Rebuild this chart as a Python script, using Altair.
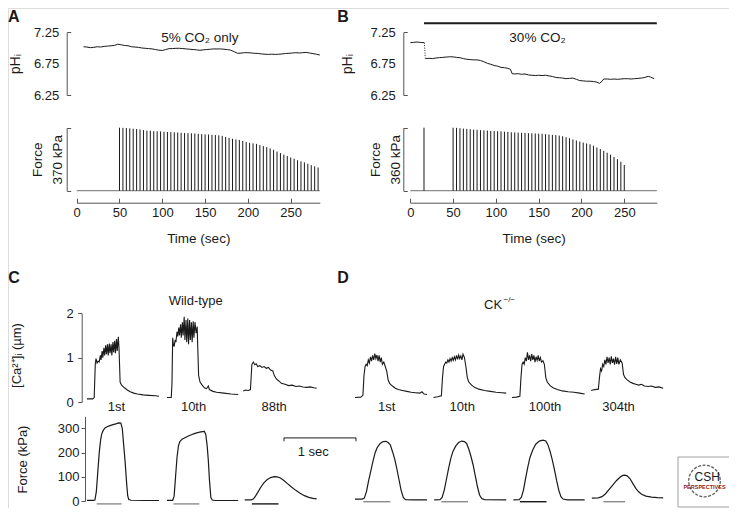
import altair as alt
import pandas as pd

# ======================= DATA =======================
# Panel A : pHi trace (5% CO2 only), time in sec
A_PH_T = [8, 12, 16, 20, 24, 28, 32, 36, 40, 44, 48, 52, 56, 60, 64, 68, 72, 76, 80, 84,
          88, 92, 96, 100, 104, 108, 112, 116, 120, 124, 128, 132, 136, 140, 144, 148, 152, 156, 160, 164,
          168, 172, 176, 180, 184, 188, 192, 196, 200, 204, 208, 212, 216, 220, 224, 228, 232, 236, 240, 244,
          248, 252, 256, 260, 264, 268, 272, 276, 280, 284]
A_PH_V = [7.02, 7.015, 7.005, 7.01, 7.02, 7.015, 7.025, 7.03, 7.035, 7.04, 7.06, 7.05, 7.04, 7.035, 7.02, 7.015, 7.01, 7.0, 6.995, 6.99,
          6.985, 6.975, 6.965, 6.96, 6.975, 6.99, 6.99, 6.995, 6.995, 6.99, 6.985, 6.98, 6.975, 6.97, 6.963, 6.97, 6.975, 6.98, 6.985, 6.984,
          6.985, 6.98, 6.975, 6.965, 6.94, 6.915, 6.918, 6.925, 6.925, 6.92, 6.915, 6.912, 6.905, 6.9, 6.898, 6.9, 6.898, 6.9, 6.905, 6.912,
          6.915, 6.92, 6.925, 6.92, 6.925, 6.93, 6.92, 6.91, 6.9, 6.888]
# Panel A : tetanic force peaks (kPa)
A_BAR_T = [50, 54, 58, 62, 66, 70, 74, 78, 82, 86, 90, 94, 98, 102, 106, 110, 114, 118, 122, 126,
           130, 134, 138, 142, 146, 150, 154, 158, 162, 166, 170, 174, 178, 182, 186, 190, 194, 198, 202, 206,
           210, 214, 218, 222, 226, 230, 234, 238, 242, 246, 250, 254, 258, 262, 266, 270, 274, 278, 282]
A_BAR_F = [370, 369, 368, 366, 364, 362, 360, 356, 353, 352, 350, 349, 348, 346, 345, 344, 343, 342, 340, 339,
           338, 337, 336, 334, 332, 331, 330, 328, 327, 325, 322, 316, 310, 305, 301, 298, 292, 286, 281, 278,
           275, 268, 262, 256, 248, 240, 230, 221, 212, 204, 195, 188, 179, 172, 166, 158, 150, 143, 136]

# Panel B : pHi trace (30% CO2)
B_PH1_T = [0, 4, 8, 12, 16]
B_PH1_V = [7.085, 7.09, 7.095, 7.088, 7.085]
B_DOT_T = [16.5, 17.5]
B_DOT_V = [7.085, 6.83]
B_PH2_T = [18, 22, 26, 30, 34, 38, 42, 46, 50, 54, 58, 62, 66, 70, 74, 78, 82, 86, 90, 94,
           98, 102, 106, 110, 114, 117, 119, 122, 126, 130, 134, 138, 142, 146, 150, 154, 158, 162, 166, 170,
           174, 178, 182, 186, 190, 194, 198, 202, 206, 210, 214, 218, 221, 224, 226, 230, 234, 238, 242, 246,
           250, 254, 258, 262, 266, 270, 274, 278, 281, 285]
B_PH2_V = [6.83, 6.835, 6.83, 6.84, 6.846, 6.85, 6.855, 6.86, 6.858, 6.85, 6.845, 6.83, 6.82, 6.815, 6.81, 6.81, 6.80, 6.78, 6.755, 6.74,
           6.72, 6.71, 6.69, 6.685, 6.675, 6.66, 6.59, 6.585, 6.59, 6.58, 6.585, 6.57, 6.565, 6.56, 6.565, 6.56, 6.565, 6.555, 6.545, 6.53,
           6.525, 6.52, 6.51, 6.515, 6.52, 6.5, 6.48, 6.475, 6.47, 6.47, 6.465, 6.455, 6.436, 6.47, 6.505, 6.505, 6.5, 6.505, 6.5, 6.505,
           6.51, 6.51, 6.505, 6.51, 6.515, 6.52, 6.53, 6.548, 6.535, 6.51]
B_CO2_BAR = [16, 288, 7.394]
B_BAR_T = [16, 50, 54, 58, 62, 66, 70, 74, 78, 82, 86, 90, 94, 98, 102, 106, 110, 114, 118, 122, 126,
           130, 134, 138, 142, 146, 150, 154, 158, 162, 166, 170, 174, 178, 182, 186, 190, 194, 198, 202, 206,
           210, 214, 218, 222, 226, 230, 234, 238, 242, 246, 250]
B_BAR_F = [360, 360, 359, 357, 355, 353, 351, 349, 348, 346, 345, 344, 342, 341, 340, 339, 337, 336, 334, 333, 332,
           331, 330, 329, 328, 327, 326, 325, 323, 321, 319, 318, 315, 311, 306, 300, 293, 287, 281, 275, 270,
           265, 257, 247, 238, 228, 217, 206, 193, 180, 165, 147]

# Panel C : wild-type [Ca2+]i sweeps (t sec, uM)
C_CA = [
    [(0.00, 0.07), (0.08, 0.07), (0.10, 0.10), (0.115, 0.85), (0.125, 0.98), (0.14, 0.88), (0.155, 0.92), (0.17, 0.90),
     (0.185, 1.05), (0.195, 0.95), (0.21, 1.15), (0.22, 1.00), (0.235, 1.22), (0.245, 1.05), (0.26, 1.28), (0.27, 1.08),
     (0.285, 1.30), (0.295, 1.05), (0.31, 1.32), (0.32, 1.10), (0.335, 1.30), (0.345, 1.05), (0.36, 1.35), (0.37, 1.12),
     (0.385, 1.38), (0.395, 1.10), (0.41, 1.42), (0.42, 1.15), (0.435, 1.47), (0.445, 1.20), (0.46, 0.45), (0.48, 0.38),
     (0.52, 0.32), (0.56, 0.27), (0.60, 0.23), (0.65, 0.20), (0.70, 0.18), (0.78, 0.16), (0.86, 0.15), (0.95, 0.14), (1.0, 0.13)],
    [(1.11, 0.10), (1.17, 0.10), (1.18, 0.40), (1.19, 1.45), (1.20, 1.30), (1.21, 1.25), (1.225, 1.40), (1.235, 1.35),
     (1.25, 1.58), (1.26, 1.48), (1.275, 1.68), (1.285, 1.50), (1.30, 1.75), (1.31, 1.45), (1.325, 1.80), (1.335, 1.50),
     (1.35, 1.92), (1.36, 1.40), (1.375, 1.85), (1.385, 1.35), (1.40, 1.88), (1.41, 1.30), (1.425, 1.85), (1.435, 1.40),
     (1.45, 1.80), (1.46, 1.35), (1.475, 1.82), (1.485, 1.45), (1.50, 1.80), (1.515, 1.55), (1.53, 1.70), (1.55, 0.60),
     (1.57, 0.45), (1.60, 0.38), (1.63, 0.32), (1.66, 0.30), (1.685, 0.36), (1.70, 0.28), (1.75, 0.24), (1.80, 0.22),
     (1.90, 0.20), (2.00, 0.18), (2.10, 0.17)],
    [(2.17, 0.25), (2.20, 0.27), (2.24, 0.26), (2.27, 0.28), (2.29, 0.85), (2.31, 0.90), (2.33, 0.84), (2.35, 0.86),
     (2.37, 0.80), (2.40, 0.82), (2.43, 0.78), (2.46, 0.80), (2.49, 0.76), (2.52, 0.78), (2.55, 0.72), (2.58, 0.70),
     (2.60, 0.60), (2.63, 0.52), (2.66, 0.48), (2.70, 0.42), (2.75, 0.40), (2.80, 0.37), (2.85, 0.38), (2.90, 0.35),
     (2.95, 0.36), (3.00, 0.34), (3.05, 0.33), (3.10, 0.34), (3.15, 0.32), (3.19, 0.31)],
]
C_F = [
    [(0.00, 3), (0.09, 3), (0.11, 4), (0.13, 40), (0.15, 120), (0.17, 200), (0.19, 255), (0.205, 278), (0.225, 292),
     (0.25, 302), (0.30, 310), (0.35, 315), (0.40, 319), (0.44, 323), (0.47, 322), (0.49, 300), (0.51, 230), (0.53, 160),
     (0.55, 75), (0.565, 22), (0.58, 6), (0.61, 3), (0.80, 2), (1.00, 2)],
    [(1.11, 3), (1.19, 3), (1.21, 20), (1.23, 100), (1.25, 180), (1.27, 228), (1.29, 246), (1.32, 256), (1.36, 262),
     (1.40, 268), (1.45, 274), (1.50, 280), (1.55, 284), (1.60, 287), (1.63, 288), (1.65, 275), (1.67, 225), (1.685, 168),
     (1.70, 90), (1.72, 14), (1.74, 4), (1.78, 2), (1.90, 2), (2.10, 2)],
    [(2.19, 5), (2.28, 5), (2.31, 8), (2.34, 20), (2.38, 40), (2.42, 60), (2.46, 76), (2.50, 88), (2.55, 97), (2.60, 101),
     (2.64, 100), (2.68, 96), (2.73, 86), (2.78, 73), (2.84, 58), (2.90, 44), (2.96, 32), (3.02, 22), (3.08, 15),
     (3.14, 11), (3.19, 9)],
]
C_STIM = [(0.135, 0.48, "#8c8c8c"), (1.20, 1.56, "#8c8c8c"), (2.29, 2.66, "#1a1a1a")]
C_LABELS = [(0.41, "1st"), (1.48, "10th"), (2.60, "88th")]
SCALE_BAR = [2.736, 3.736, 261, 247]   # t0, t1, bar level, tick end (kPa)

# Panel D : CK-/- sweeps
D_CA = [
    [(0.00, 0.10), (0.08, 0.11), (0.11, 0.15), (0.125, 0.60), (0.14, 0.80), (0.155, 0.85), (0.17, 0.82), (0.185, 0.95),
     (0.20, 0.88), (0.215, 1.02), (0.23, 0.92), (0.245, 1.05), (0.26, 0.95), (0.275, 1.09), (0.29, 0.98), (0.305, 1.06),
     (0.32, 0.92), (0.335, 1.05), (0.35, 0.90), (0.365, 1.00), (0.38, 0.85), (0.40, 0.90), (0.42, 0.80), (0.44, 0.70),
     (0.46, 0.50), (0.48, 0.42), (0.52, 0.36), (0.56, 0.31), (0.60, 0.28), (0.66, 0.26), (0.72, 0.24), (0.78, 0.22),
     (0.84, 0.21), (0.90, 0.20), (0.93, 0.23), (0.96, 0.18), (1.00, 0.17)],
    [(1.09, 0.10), (1.15, 0.12), (1.20, 0.14), (1.215, 0.55), (1.23, 0.80), (1.245, 0.85), (1.26, 0.90), (1.275, 0.88),
     (1.29, 0.95), (1.305, 0.90), (1.32, 0.98), (1.335, 0.92), (1.35, 1.00), (1.365, 0.94), (1.38, 1.02), (1.395, 0.95),
     (1.41, 1.05), (1.425, 0.96), (1.44, 1.06), (1.455, 0.98), (1.47, 1.04), (1.485, 0.95), (1.50, 1.08), (1.52, 1.00),
     (1.54, 0.80), (1.56, 0.55), (1.58, 0.45), (1.62, 0.38), (1.66, 0.33), (1.72, 0.29), (1.80, 0.26), (1.88, 0.24),
     (1.96, 0.22), (2.04, 0.21), (2.10, 0.20)],
    [(2.18, 0.10), (2.24, 0.11), (2.29, 0.13), (2.305, 0.55), (2.32, 0.85), (2.335, 0.90), (2.35, 0.85), (2.365, 1.00),
     (2.38, 0.92), (2.395, 1.12), (2.41, 0.95), (2.425, 1.05), (2.44, 0.92), (2.455, 1.08), (2.47, 0.95), (2.485, 1.05),
     (2.50, 0.90), (2.515, 1.02), (2.53, 0.94), (2.545, 1.05), (2.56, 0.92), (2.575, 1.00), (2.59, 0.90), (2.61, 0.93),
     (2.63, 0.85), (2.65, 0.55), (2.67, 0.45), (2.71, 0.37), (2.75, 0.32), (2.81, 0.28), (2.88, 0.25), (2.96, 0.23),
     (3.04, 0.22), (3.12, 0.20), (3.19, 0.18)],
    [(3.28, 0.26), (3.33, 0.28), (3.38, 0.29), (3.395, 0.55), (3.41, 0.75), (3.425, 0.70), (3.44, 0.85), (3.455, 0.80),
     (3.47, 0.95), (3.485, 0.85), (3.50, 1.02), (3.515, 0.88), (3.53, 1.00), (3.545, 0.85), (3.56, 1.03), (3.575, 0.88),
     (3.59, 0.98), (3.605, 0.84), (3.62, 1.02), (3.635, 0.86), (3.65, 1.00), (3.665, 0.85), (3.685, 0.95), (3.71, 0.88),
     (3.73, 0.62), (3.75, 0.55), (3.78, 0.50), (3.82, 0.45), (3.86, 0.42), (3.90, 0.40), (3.94, 0.38), (3.98, 0.40),
     (4.02, 0.36), (4.07, 0.35), (4.12, 0.36), (4.17, 0.33), (4.22, 0.34), (4.28, 0.31)],
]
D_F = [
    [(0.00, 8), (0.10, 8), (0.13, 12), (0.16, 40), (0.19, 85), (0.22, 125), (0.25, 165), (0.28, 200), (0.31, 222),
     (0.35, 238), (0.39, 246), (0.43, 247), (0.46, 242), (0.49, 232), (0.52, 205), (0.55, 175), (0.58, 135), (0.61, 90),
     (0.64, 45), (0.67, 15), (0.70, 6), (0.80, 5), (1.00, 5)],
    [(1.10, 5), (1.18, 6), (1.21, 15), (1.24, 45), (1.27, 90), (1.30, 135), (1.33, 175), (1.36, 205), (1.40, 228),
     (1.44, 242), (1.48, 248), (1.52, 246), (1.55, 238), (1.58, 215), (1.61, 185), (1.64, 150), (1.67, 105), (1.70, 60),
     (1.73, 25), (1.76, 10), (1.80, 6), (2.10, 5)],
    [(2.20, 5), (2.28, 6), (2.31, 15), (2.34, 45), (2.37, 95), (2.40, 140), (2.43, 180), (2.47, 212), (2.51, 235),
     (2.56, 248), (2.61, 252), (2.65, 248), (2.68, 232), (2.71, 205), (2.74, 170), (2.77, 130), (2.80, 85), (2.83, 45),
     (2.86, 18), (2.89, 8), (2.95, 5), (3.19, 5)],
    [(3.29, 12), (3.38, 13), (3.43, 18), (3.48, 30), (3.53, 48), (3.58, 66), (3.63, 84), (3.68, 98), (3.72, 106),
     (3.75, 107), (3.78, 104), (3.82, 92), (3.86, 72), (3.90, 52), (3.94, 38), (3.98, 28), (4.04, 20), (4.12, 16),
     (4.20, 14), (4.28, 13)],
]
D_STIM = [(0.115, 0.49, "#8c8c8c"), (1.20, 1.57, "#8c8c8c"), (2.29, 2.66, "#1a1a1a"), (3.45, 3.75, "#8c8c8c")]
D_LABELS = [(0.44, "1st"), (1.49, "10th"), (2.64, "100th"), (3.66, "304th")]

PH_TICKS = [6.25, 6.75, 7.25]
TIME_TICKS = [0, 50, 100, 150, 200, 250]
CA_TICKS = [0.0, 1.0, 2.0]
F_TICKS = [0, 100, 200, 300]

assert len(A_PH_T) == len(A_PH_V) and len(A_BAR_T) == len(A_BAR_F)
assert len(B_PH2_T) == len(B_PH2_V) and len(B_BAR_T) == len(B_BAR_F)

# ======================= LAYOUT =======================
OFF = 8
W, H = 721, 500
INK = "#1a1a1a"
AX = "#555555"
GRAY = "#8c8c8c"
FONT = "Liberation Sans"


def S(domain, rng):
    return alt.Scale(domain=domain, range=[rng[0] - OFF, rng[1] - OFF], nice=False, zero=False)


A_T = S([0, 284], [76.7, 319.8])
B_T = S([0, 288], [410.3, 656.8])
PH = S([6.25, 7.25], [95.0, 32.3])
A_FS = S([0, 370], [190.7, 127.7])
B_FS = S([0, 360], [190.7, 127.7])
C_T = S([0, 3.2], [87.0, 317.4])
D_T = S([0, 4.3], [355.0, 664.6])
CA = S([0, 2], [402.0, 313.3])
FS = S([0, 350], [501.0, 416.4])
LX = S([0, 1], [678.0, 731.0])
LY = S([0, 1], [507.0, 457.0])


def X(f, sc, axis=None):
    return alt.X(f, type="quantitative", scale=sc, axis=axis)


def Y(f, sc, axis=None):
    return alt.Y(f, type="quantitative", scale=sc, axis=axis)


common = dict(grid=False, domainColor=AX, domainWidth=1, tickColor=AX, tickWidth=1,
              labelColor=INK, labelFont=FONT, titleColor=INK, titleFont=FONT,
              titleFontWeight="normal", labelOverlap=False, labelFlush=False)


def ph_axis(x_page, title_x_page):
    c = dict(common)
    c["tickColor"] = {"condition": {"test": "datum.value == 6.75", "value": "transparent"}, "value": AX}
    return alt.Axis(orient="right", offset=(x_page - OFF) - W, values=PH_TICKS, format=".2f",
                    tickSize=4, labelAlign="right", labelBaseline="middle", labelPadding=-12,
                    labelFontSize=13, title="pHᵢ", titleAngle=270, titleX=title_x_page - x_page,
                    titleY=(32.3 + 95.0) / 2 - OFF, titleAlign="center", titleBaseline="middle",
                    titleFontSize=14, **c)


def force_bracket(x_page, top, lines, title_x_page):
    return alt.Axis(orient="right", offset=(x_page - OFF) - W, values=[0, top], labels=False,
                    tickSize=4, title=lines, titleAngle=270, titleX=title_x_page - x_page,
                    titleY=(127.7 + 190.7) / 2 - OFF, titleAlign="center", titleBaseline="middle",
                    titleLineHeight=20, titleFontSize=13.5, **common)


def time_axis(x0, x1):
    return alt.Axis(orient="top", offset=-(202.7 - OFF), values=TIME_TICKS, tickSize=4.5,
                    labelBaseline="top", labelAlign="center", labelPadding=-8, labelAngle=0,
                    labelFontSize=13, title="Time (sec)", titleX=(x0 + x1) / 2 - OFF,
                    titleY=238 - 202.7, titleAlign="center", titleBaseline="middle",
                    titleFontSize=13.5, **common)


def left_axis(x_page, values, title, title_x_page, title_y_page, pad):
    return alt.Axis(orient="left", offset=-(x_page - OFF), values=values, format=".0f", tickSize=4,
                    labelPadding=pad, labelFontSize=13, labelAlign="right", labelBaseline="middle",
                    title=title, titleAngle=270, titleX=title_x_page - x_page, titleY=title_y_page - OFF,
                    titleAlign="center", titleBaseline="middle", titleFontSize=13, **common)


def text_layer(rows, xs, ys, size=13, weight="normal", align="center", color=INK):
    d = pd.DataFrame(rows, columns=["t", "v", "label"])
    return alt.Chart(d).mark_text(font=FONT, fontSize=size, fontWeight=weight, align=align,
                                  baseline="middle", color=color).encode(
        x=X("t", xs), y=Y("v", ys), text=alt.Text("label:N"))


def sweeps_df(sweeps):
    rows = []
    for i, pts in enumerate(sweeps):
        for t, v in pts:
            rows.append({"t": t, "v": v, "sweep": i})
    return pd.DataFrame(rows)


layers = []

# ---------------- Panel A ----------------
layers.append(alt.Chart(pd.DataFrame({"t": A_PH_T, "v": A_PH_V})).mark_line(color=INK, strokeWidth=1).encode(
    x=X("t", A_T), y=Y("v", PH, ph_axis(66.7, 16))))
layers.append(alt.Chart(pd.DataFrame({"t0": [0], "t1": [284], "f": [0]})).mark_rule(color=GRAY, strokeWidth=1.2).encode(
    x=X("t0", A_T, time_axis(76.7, 319.8)), x2="t1", y=Y("f", A_FS, force_bracket(66.7, 370, ["Force", "370 kPa"], 38))))
layers.append(alt.Chart(pd.DataFrame({"t": A_BAR_T, "f0": [0] * len(A_BAR_T), "f": A_BAR_F})).mark_rule(
    color=INK, strokeWidth=1).encode(x=X("t", A_T), y=Y("f0", A_FS), y2="f"))
layers.append(text_layer([(144, 7.154, "5% CO₂ only")], A_T, PH, size=13.5))
layers.append(text_layer([(-73.5, 7.50, "A")], A_T, PH, size=16, weight="bold"))

# ---------------- Panel B ----------------
b_ph = pd.DataFrame({"t": B_PH1_T + B_PH2_T, "v": B_PH1_V + B_PH2_V,
                     "seg": [0] * len(B_PH1_T) + [1] * len(B_PH2_T)})
layers.append(alt.Chart(b_ph).mark_line(color=INK, strokeWidth=1).encode(
    x=X("t", B_T), y=Y("v", PH, ph_axis(403.3, 347)), detail="seg:N"))
layers.append(alt.Chart(pd.DataFrame({"t": B_DOT_T, "v": B_DOT_V})).mark_line(
    color=INK, strokeWidth=1, strokeDash=[1, 1.5]).encode(x=X("t", B_T), y=Y("v", PH)))
layers.append(alt.Chart(pd.DataFrame({"t0": [B_CO2_BAR[0]], "t1": [B_CO2_BAR[1]], "v": [B_CO2_BAR[2]]})).mark_rule(
    color=INK, strokeWidth=2).encode(x=X("t0", B_T), x2="t1", y=Y("v", PH)))
layers.append(text_layer([(148.6, 7.16, "30% CO₂")], B_T, PH, size=13.5))
layers.append(alt.Chart(pd.DataFrame({"t0": [0], "t1": [288], "f": [0]})).mark_rule(color=GRAY, strokeWidth=1.2).encode(
    x=X("t0", B_T, time_axis(410.3, 656.8)), x2="t1", y=Y("f", B_FS, force_bracket(403.3, 360, ["Force", "360 kPa"], 375))))
layers.append(alt.Chart(pd.DataFrame({"t": B_BAR_T, "f0": [0] * len(B_BAR_T), "f": B_BAR_F})).mark_rule(
    color=INK, strokeWidth=1).encode(x=X("t", B_T), y=Y("f0", B_FS), y2="f"))
layers.append(text_layer([(-78.6, 7.50, "B")], B_T, PH, size=16, weight="bold"))

# ---------------- Panel C ----------------
layers.append(alt.Chart(sweeps_df(C_CA)).mark_line(color=INK, strokeWidth=1.1).encode(
    x=X("t", C_T), y=Y("v", CA, left_axis(81.7, CA_TICKS, "[Ca²⁺]ᵢ (µm)", 16, 355, 4.5)), detail="sweep:N"))
layers.append(alt.Chart(sweeps_df(C_F)).mark_line(color=INK, strokeWidth=1.2).encode(
    x=X("t", C_T), y=Y("v", FS, left_axis(85, F_TICKS, "Force (kPa)", 22, 459, 2)), detail="sweep:N"))
c_stim = pd.DataFrame({"t0": [s[0] for s in C_STIM], "t1": [s[1] for s in C_STIM],
                       "c": [s[2] for s in C_STIM], "f": [-12] * len(C_STIM)})
layers.append(alt.Chart(c_stim).mark_rule(strokeWidth=1.4).encode(
    x=X("t0", C_T), x2="t1", y=Y("f", FS), color=alt.Color("c:N", scale=None)))
layers.append(text_layer([(t, -0.11, s) for t, s in C_LABELS], C_T, CA, size=13))
layers.append(text_layer([(1.51, 2.27, "Wild-type")], C_T, CA, size=13))
layers.append(alt.Chart(pd.DataFrame({"t0": [SCALE_BAR[0]], "t1": [SCALE_BAR[1]], "f": [SCALE_BAR[2]]})).mark_rule(
    color=INK, strokeWidth=1).encode(x=X("t0", C_T), x2="t1", y=Y("f", FS)))
layers.append(alt.Chart(pd.DataFrame({"t": [SCALE_BAR[0], SCALE_BAR[1]], "f0": [SCALE_BAR[2]] * 2,
                                      "f1": [SCALE_BAR[3]] * 2})).mark_rule(color=INK, strokeWidth=1).encode(
    x=X("t", C_T), y=Y("f0", FS), y2="f1"))
layers.append(text_layer([(3.143, 201.6, "1 sec")], C_T, FS, size=13))
layers.append(text_layer([(-1.015, 2.80, "C")], C_T, CA, size=16, weight="bold"))

# ---------------- Panel D ----------------
layers.append(alt.Chart(sweeps_df(D_CA)).mark_line(color=INK, strokeWidth=1.1).encode(
    x=X("t", D_T), y=Y("v", CA), detail="sweep:N"))
layers.append(alt.Chart(sweeps_df(D_F)).mark_line(color=INK, strokeWidth=1.2).encode(
    x=X("t", D_T), y=Y("v", FS), detail="sweep:N"))
d_stim = pd.DataFrame({"t0": [s[0] for s in D_STIM], "t1": [s[1] for s in D_STIM],
                       "c": [s[2] for s in D_STIM], "f": [-3] * len(D_STIM)})
layers.append(alt.Chart(d_stim).mark_rule(strokeWidth=1.4).encode(
    x=X("t0", D_T), x2="t1", y=Y("f", FS), color=alt.Color("c:N", scale=None)))
layers.append(text_layer([(t, -0.11, s) for t, s in D_LABELS], D_T, CA, size=13))
layers.append(text_layer([(1.917, 2.187, "CK")], D_T, CA, size=13))
layers.append(text_layer([(2.062, 2.30, "−/−")], D_T, CA, size=8, align="left"))
layers.append(text_layer([(-0.167, 2.80, "D")], D_T, CA, size=16, weight="bold"))

# ---------------- Logo ----------------
layers.append(alt.Chart(pd.DataFrame({"x0": [0], "x1": [1], "y0": [0], "y1": [1]})).mark_rect(
    fill="white", stroke="#a0a0a0", strokeWidth=1).encode(x=X("x0", LX), x2="x1", y=Y("y0", LY), y2="y1"))
layers.append(alt.Chart(pd.DataFrame({"x": [0.5], "y": [0.52]})).mark_point(
    shape="circle", size=1000, filled=False, color=INK, strokeWidth=1.3, strokeDash=[3, 1.5]).encode(
    x=X("x", LX), y=Y("y", LY)))
layers.append(text_layer([(0.55, 0.60, "CSH")], LX, LY, size=12))
layers.append(text_layer([(0.5, 0.41, "PERSPECTIVES")], LX, LY, size=5.5, weight="bold", color="#9b1b1b"))

chart = alt.layer(*layers).resolve_scale(x="independent", y="independent").resolve_axis(
    x="independent", y="independent").properties(
    width=W, height=H, padding=0, autosize=alt.AutoSizeParams(type="none"),
    background="white").configure_view(strokeWidth=0).configure(font=FONT)

chart.save("out.html", embed_options={"renderer": "svg", "actions": False})
